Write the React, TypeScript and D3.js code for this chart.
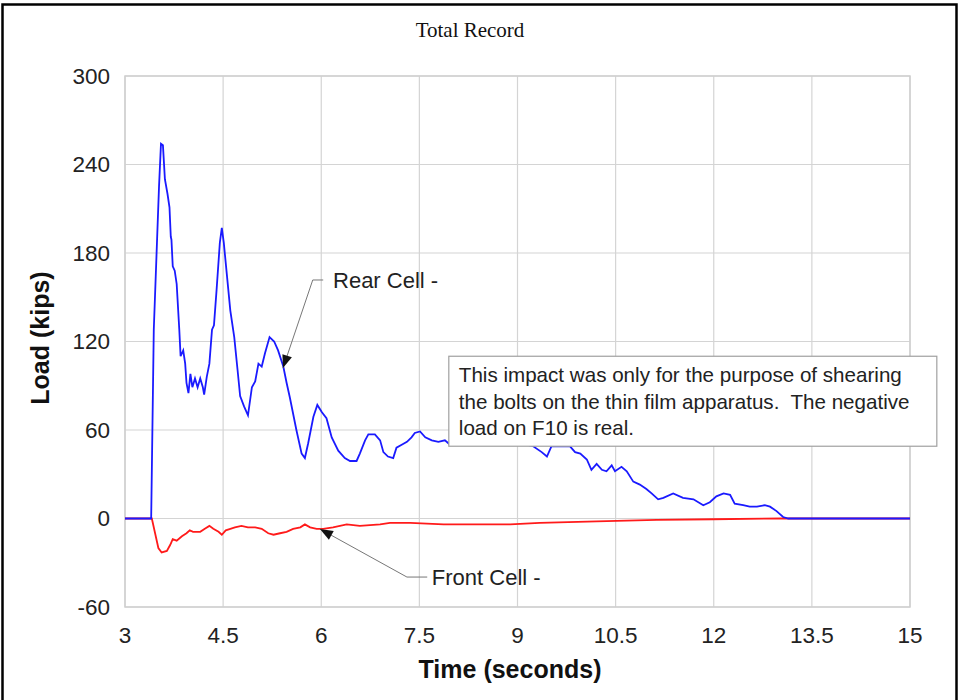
import React from 'react';
import * as d3 from 'd3';

// Rear cell (blue) - time in seconds, load in kips
const rearTime = [3.0, 3.4, 3.44, 3.52, 3.55, 3.58, 3.61, 3.65, 3.68, 3.7, 3.71, 3.73, 3.76, 3.79, 3.83, 3.85, 3.89, 3.92, 3.94, 3.97,
  4.0, 4.03, 4.07, 4.11, 4.15, 4.19, 4.21, 4.25, 4.29, 4.33, 4.36, 4.4, 4.45, 4.48, 4.51, 4.56, 4.61, 4.67, 4.72, 4.76,
  4.82, 4.88, 4.94, 4.99, 5.04, 5.09, 5.14, 5.21, 5.28, 5.34, 5.42, 5.47, 5.52, 5.62, 5.7, 5.75, 5.8, 5.88, 5.94, 6.01,
  6.08, 6.16, 6.26, 6.36, 6.44, 6.54, 6.59, 6.67, 6.72, 6.82, 6.9, 6.95, 7.02, 7.1, 7.15, 7.23, 7.31, 7.38, 7.43, 7.51,
  7.59, 7.69, 7.79, 7.89, 7.97, 8.27, 8.66, 9.04, 9.24, 9.37, 9.45, 9.52, 9.65, 9.8, 9.88, 9.96, 10.06, 10.13, 10.21, 10.29,
  10.36, 10.44, 10.49, 10.59, 10.67, 10.77, 10.87, 10.97, 11.05, 11.15, 11.23, 11.38, 11.53, 11.69, 11.84, 11.94, 12.04, 12.15, 12.25, 12.32,
  12.45, 12.55, 12.66, 12.78, 12.86, 12.96, 13.06, 13.14, 15.0];
const rearLoad = [0, 0, 128, 225, 254, 253, 230, 220, 211, 191, 189, 171, 168, 159, 128, 110, 114, 105, 92, 85,
  98, 89, 95, 89, 95, 89, 84, 96, 105, 128, 131, 155, 187, 197, 187, 164, 141, 123, 101, 83,
  76, 70, 89, 93, 105, 103, 112, 123, 120, 114, 103, 92, 82, 60, 44, 41, 51, 69, 77, 72,
  68, 55, 46, 41, 39, 39, 44, 53, 57, 57, 53, 45, 42, 41, 48, 50, 52, 55, 58, 59,
  55, 53, 52, 53, 50, 51, 53, 51, 49, 45, 42, 49, 49, 49, 45, 44, 40, 33, 37, 33,
  32, 36, 32, 35, 32, 25, 23, 20, 17, 13, 14, 17, 14, 13, 9, 11, 15, 17, 16, 10,
  9, 8, 8, 9, 8, 5, 1, 0, 0];

// Front cell (red)
const frontTime = [3.0, 3.41, 3.46, 3.51, 3.56, 3.64, 3.69, 3.73, 3.79, 3.87, 3.94, 3.99, 4.04, 4.15, 4.22, 4.29, 4.35, 4.43, 4.48, 4.54,
  4.61, 4.68, 4.78, 4.88, 4.99, 5.09, 5.19, 5.27, 5.37, 5.47, 5.57, 5.68, 5.75, 5.83, 5.93, 6.03, 6.18, 6.39, 6.59, 6.9,
  7.05, 7.36, 7.87, 8.38, 8.89, 9.34, 10.21, 11.13, 11.99, 13.06, 15.0];
const frontLoad = [0, 0, -10, -20, -23, -22, -18, -14, -15, -12, -10, -8, -9, -9, -7, -5, -7, -9, -11, -8,
  -7, -6, -5, -6, -6, -7, -10, -11, -10, -9, -7, -6, -4, -6, -7, -7, -6, -4, -5, -4,
  -3, -3, -4, -4, -4, -3, -2, -1, -0.5, 0, 0];

const xTicks = [3, 4.5, 6, 7.5, 9, 10.5, 12, 13.5, 15];
const yTicks = [-60, 0, 60, 120, 180, 240, 300];

const noteLines = [
  'This impact was only for the purpose of shearing',
  'the bolts on the thin film apparatus.  The negative',
  'load on F10 is real.'
];

// leader lines: label end, elbow, arrow tip (time, load)
const rearLeader = [[6.03, 161.7], [5.87, 161.7], [5.415, 102]];
const frontLeader = [[7.62, -39.7], [7.31, -39.7], [5.98, -7.1]];

const W = 959, H = 700;
const m = {left: 125, right: 910, top: 76, bottom: 607};
const sans = 'Arial, "Liberation Sans", sans-serif';

export default function App() {
  const x = d3.scaleLinear().domain([3, 15]).range([m.left, m.right]);
  const y = d3.scaleLinear().domain([-60, 300]).range([m.bottom, m.top]);

  const line = d3.line<[number, number]>().x(d => x(d[0])).y(d => y(d[1]));
  const rear = rearTime.map((t, i) => [t, rearLoad[i]] as [number, number]);
  const front = frontTime.map((t, i) => [t, frontLoad[i]] as [number, number]);

  const arrow = (pts: number[][]) => {
    const [a, b] = [pts[1], pts[2]];
    const x1 = x(a[0]), y1 = y(a[1]), x2 = x(b[0]), y2 = y(b[1]);
    const ang = Math.atan2(y2 - y1, x2 - x1);
    const L = 13, Wd = 5;
    const bx = x2 - L * Math.cos(ang), by = y2 - L * Math.sin(ang);
    const px = -Math.sin(ang) * Wd, py = Math.cos(ang) * Wd;
    return `M${x2},${y2}L${bx + px},${by + py}L${bx - px},${by - py}Z`;
  };

  return (
    <svg width={W} height={H} style={{position: 'absolute', left: 0, top: 0, background: '#fff'}}>
      <rect x={2.5} y={4.5} width={954} height={710} fill="#fff" stroke="#000" strokeWidth={2.5}/>
      <text x={470} y={37} textAnchor="middle" fontFamily='"Liberation Serif", "Times New Roman", serif' fontSize={21} fill="#111">Total Record</text>

      {/* grid */}
      {xTicks.map(t => (
        <line key={'gx' + t} x1={x(t)} x2={x(t)} y1={m.top} y2={m.bottom} stroke="#d4d4d4" strokeWidth={1.2}/>
      ))}
      {yTicks.map(t => (
        <line key={'gy' + t} x1={m.left} x2={m.right} y1={y(t)} y2={y(t)} stroke="#d4d4d4" strokeWidth={1.2}/>
      ))}
      <rect x={m.left} y={m.top} width={m.right - m.left} height={m.bottom - m.top} fill="none" stroke="#cfcfcf" strokeWidth={1.5}/>

      {/* tick labels */}
      {yTicks.map(t => (
        <text key={'ty' + t} x={110} y={y(t)} dy="0.35em" textAnchor="end" fontFamily={sans} fontSize={22.5} fill="#222">{t}</text>
      ))}
      {xTicks.map(t => (
        <text key={'tx' + t} x={x(t)} y={643} textAnchor="middle" fontFamily={sans} fontSize={22.5} fill="#222">{t}</text>
      ))}

      <text x={510} y={678} textAnchor="middle" fontFamily={sans} fontSize={25} fontWeight="bold" fill="#111">Time (seconds)</text>
      <text transform={`translate(49,${338}) rotate(-90)`} textAnchor="middle" fontFamily={sans} fontSize={25} fontWeight="bold" fill="#111">Load (kips)</text>

      {/* series */}
      <path d={line(front) || ''} fill="none" stroke="#ff1a1a" strokeWidth={1.8}/>
      <path d={line(rear) || ''} fill="none" stroke="#1a1aff" strokeWidth={1.8}/>

      {/* note box */}
      <rect x={x(7.95)} y={y(110)} width={x(15.41) - x(7.95)} height={y(49) - y(110)} fill="#fff" stroke="#a0a0a0" strokeWidth={1.2}/>
      {noteLines.map((s, i) => (
        <text key={i} x={x(7.95) + 10} y={y(110) + 26 + i * 26.5} fontFamily={sans} fontSize={20.6} fill="#222" style={{whiteSpace: 'pre'}}>{s}</text>
      ))}

      {/* leaders */}
      {[rearLeader, frontLeader].map((pts, i) => (
        <g key={'ld' + i}>
          <polyline points={pts.map(p => `${x(p[0])},${y(p[1])}`).join(' ')} fill="none" stroke="#777" strokeWidth={1}/>
          <path d={arrow(pts)} fill="#111"/>
        </g>
      ))}
      <text x={x(6.18)} y={y(161.7)} dy="0.35em" fontFamily={sans} fontSize={22} fill="#222">Rear Cell -</text>
      <text x={x(7.69)} y={y(-39.7)} dy="0.35em" fontFamily={sans} fontSize={22} fill="#222">Front Cell -</text>
    </svg>
  );
}
